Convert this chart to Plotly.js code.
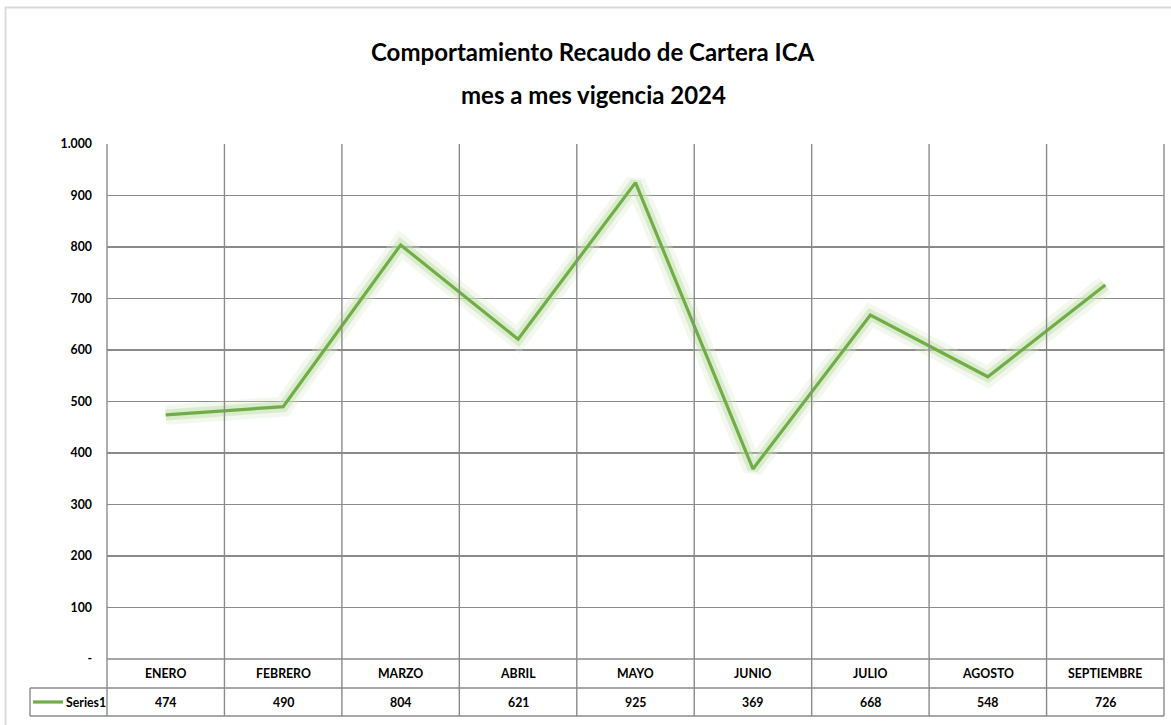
<!DOCTYPE html>
<html>
<head>
<meta charset="utf-8">
<script src="https://cdn.plot.ly/plotly-3.0.1.min.js"></script>
<style>html,body{margin:0;padding:0;background:#fff;}#chart{width:1171px;height:725px;}</style>
</head>
<body>
<div id="chart"></div>
<script>
// ---- data ----
const categories = ["ENERO","FEBRERO","MARZO","ABRIL","MAYO","JUNIO","JULIO","AGOSTO","SEPTIEMBRE"];
const series1 = [474, 490, 804, 621, 925, 369, 668, 548, 726];
const seriesName = "Series1";
const yTickVals = [0,100,200,300,400,500,600,700,800,900,1000];
const yTickText = ["-","100","200","300","400","500","600","700","800","900","1.000"];
const titleLines = ["Comportamiento Recaudo de Cartera ICA","mes a mes vigencia 2024"];

// ---- layout helpers ----
const W = 1171, H = 725, L = 107, R = 7, T = 144, B = 66;
const pw = W - L - R, ph = H - T - B;
const px = x => (x - L) / pw;
const py = y => (H - B - y) / ph;
const FONT = "Lato, Open Sans, sans-serif";
const GRID = "#8a8a8a";
const GREEN = "#70AD47";
const n = categories.length;
const xIdx = categories.map((c, i) => i);

const traces = [
  {x: xIdx, y: series1, mode: "lines", line: {color: "#D3E9C3", width: 20}, opacity: 0.3, hoverinfo: "skip", showlegend: false},
  {x: xIdx, y: series1, mode: "lines", line: {color: "#BFDDA9", width: 11}, opacity: 0.45, hoverinfo: "skip", showlegend: false},
  {x: xIdx, y: series1, mode: "lines", name: seriesName, line: {color: GREEN, width: 3.2}, showlegend: false}
];

const shapes = [];
const lineStyle = {color: GRID, width: 1.4};
// vertical category boundaries (plot + table)
for (let i = 0; i <= n; i++) {
  shapes.push({type: "line", xref: "paper", yref: "paper", x0: i / n, x1: i / n, y0: py(716), y1: 1, line: lineStyle, layer: "above"});
}
// table horizontal lines (top of table = y 0 line)
[659, 688, 716].forEach(yy => shapes.push({type: "line", xref: "paper", yref: "paper", x0: yy === 659 ? 0 : px(30), x1: 1, y0: py(yy), y1: py(yy), line: lineStyle}));
shapes.push({type: "line", xref: "paper", yref: "paper", x0: px(30), x1: px(30), y0: py(688), y1: py(716), line: lineStyle});
// legend key
shapes.push({type: "line", xref: "paper", yref: "paper", x0: px(33), x1: px(63), y0: py(702), y1: py(702), line: {color: GREEN, width: 3.2}});
// outer chart border
const BORDER = {color: "#d9d9d9", width: 2};
shapes.push({type: "line", xref: "paper", yref: "paper", x0: px(5), x1: px(W + 5), y0: py(7.5), y1: py(7.5), line: BORDER});
shapes.push({type: "line", xref: "paper", yref: "paper", x0: px(5.5), x1: px(5.5), y0: py(7), y1: py(H + 5), line: BORDER});

const annotations = [];
const cellFont = {family: FONT, size: 12.3, color: "#000", weight: 700};
categories.forEach((c, i) => {
  annotations.push({xref: "paper", yref: "paper", x: (i + 0.5) / n, y: py(673.5), text: c, showarrow: false, xanchor: "center", yanchor: "middle", font: cellFont});
  annotations.push({xref: "paper", yref: "paper", x: (i + 0.5) / n, y: py(702), text: String(series1[i]), showarrow: false, xanchor: "center", yanchor: "middle", font: cellFont});
});
annotations.push({xref: "paper", yref: "paper", x: px(64), y: py(702), text: seriesName, showarrow: false, xanchor: "left", yanchor: "middle", font: cellFont});
// title lines
const titleFont = {family: FONT, size: 24, color: "#000", weight: 700};
[52, 95].forEach((yy, k) => annotations.push({xref: "paper", yref: "paper", x: px(593), y: py(yy), text: titleLines[k], showarrow: false,
  xanchor: "center", yanchor: "middle", font: titleFont}));

const layout = {
  width: W, height: H,
  margin: {l: L, r: R, t: T, b: B, pad: 0},
  paper_bgcolor: "#fff", plot_bgcolor: "#fff",
  xaxis: {range: [-0.5, n - 0.5], showgrid: false, zeroline: false, showticklabels: false, ticks: "", fixedrange: true},
  yaxis: {range: [0, 1000], tickvals: yTickVals, ticktext: yTickText, showgrid: true, gridcolor: GRID, gridwidth: 1.4,
          zeroline: false, showline: false, ticks: "", ticklabelstandoff: 14,
          tickfont: {family: FONT, size: 12.3, color: "#000", weight: 700}, fixedrange: true},
  shapes: shapes, annotations: annotations, showlegend: false
};

Plotly.newPlot("chart", traces, layout, {displayModeBar: false, staticPlot: true});
</script>
</body>
</html>
